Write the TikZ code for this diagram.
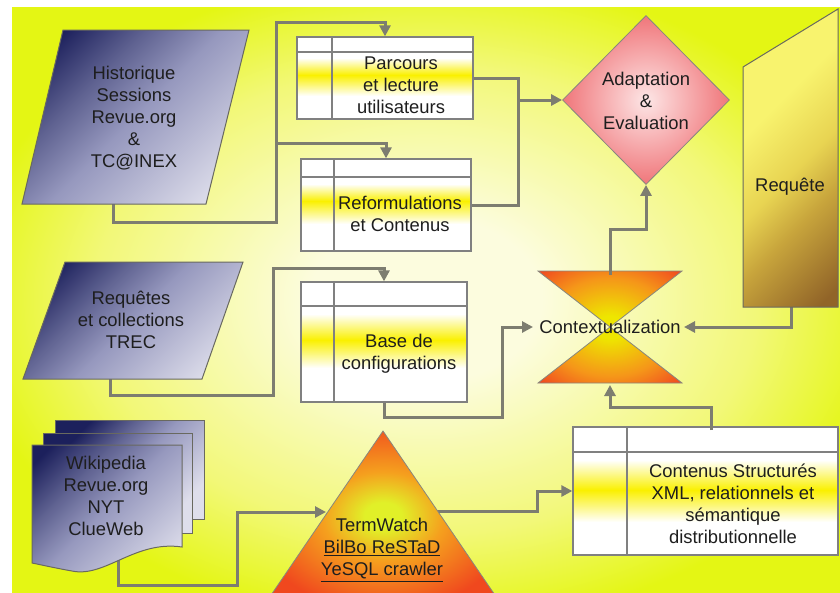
\documentclass[tikz,border=0pt]{standalone}
\usepackage{fontspec}
\setmainfont{Liberation Sans}
\usetikzlibrary{arrows.meta,shapes.geometric}
\definecolor{bgin}{RGB}{252,252,222}
\definecolor{bgmid}{RGB}{242,248,120}
\definecolor{bgout}{RGB}{228,246,20}
\pgfdeclareradialshading{bgshade}{\pgfpoint{0bp}{0bp}}{color(0bp)=(bgin); color(7bp)=(bgin); color(20bp)=(bgmid); color(28bp)=(bgout); color(50bp)=(bgout)}
\definecolor{hgin}{RGB}{238,230,0}
\definecolor{hgmid}{RGB}{245,150,25}
\definecolor{hgout}{RGB}{240,72,32}
\pgfdeclareradialshading{hgshade}{\pgfpoint{0bp}{0bp}}{color(0bp)=(hgin); color(5bp)=(hgin); color(22bp)=(hgmid); color(35bp)=(hgout); color(50bp)=(hgout)}
\definecolor{trin}{RGB}{225,240,40}
\definecolor{trmid}{RGB}{245,160,30}
\definecolor{trout}{RGB}{240,72,30}
\pgfdeclareradialshading{trshade}{\pgfpoint{0bp}{0bp}}{color(0bp)=(trin); color(4bp)=(trin); color(13bp)=(trmid); color(28bp)=(trout); color(50bp)=(trout)}
\definecolor{reqtop}{RGB}{248,243,110}
\definecolor{reqa}{RGB}{232,212,82}
\definecolor{reqb}{RGB}{200,165,60}
\definecolor{reqbot}{RGB}{145,100,40}
\pgfdeclareverticalshading{reqsh}{100bp}{color(0bp)=(reqbot); color(29bp)=(reqbot); color(41bp)=(reqb); color(48bp)=(reqa); color(58bp)=(reqtop); color(100bp)=(reqtop)}
\definecolor{navy}{RGB}{28,32,92}
\definecolor{navq}{RGB}{95,98,145}
\definecolor{navmid}{RGB}{150,152,190}
\definecolor{lav}{RGB}{222,222,235}
\pgfdeclareverticalshading{navshade}{100bp}{color(0bp)=(lav); color(25bp)=(lav); color(50bp)=(navmid); color(62bp)=(navq); color(75bp)=(navy); color(100bp)=(navy)}
\definecolor{lcol}{RGB}{125,125,112}
\definecolor{bcol}{RGB}{128,128,128}
\definecolor{sbor}{RGB}{105,105,95}
\definecolor{yband}{RGB}{250,240,0}
\definecolor{txtc}{RGB}{30,30,30}
\definecolor{pinkin}{RGB}{253,230,230}
\definecolor{pinkout}{RGB}{240,118,122}
\begin{document}
\begin{tikzpicture}[x=1pt,y=-1pt,
  txt/.style={font=\fontsize{18.4}{22}\selectfont, text=txtc, align=center, inner sep=0pt},
  conn/.style={draw=lcol, line width=3pt, line join=miter},
  arr/.style={conn, -{Triangle[length=11pt,width=11pt]}},
  tb/.style={draw=bcol, line width=1.3pt, inner sep=0pt, rectangle},
  bl/.style={draw=bcol, line width=1.3pt},
  sh/.style={draw=sbor, line width=1pt},
  navsh/.style={shading=navshade, shading angle=45},
]
\useasboundingbox (0,0) rectangle (840,592);
\fill[white] (0,0) rectangle (840,592);
\shade[shading=bgshade] (12,7) rectangle (840,592);

% named anchor points
\coordinate (hist-s) at (113,200);
\coordinate (reqs-s) at (110,375);
\coordinate (docs-s) at (118,552);
\coordinate (req-s) at (791,300);
\coordinate (ctx-top) at (610,275);
\coordinate (ctx-bot) at (610,385);
\coordinate (ctx-w) at (533,327);
\coordinate (ctx-e) at (684,327);
\coordinate (tw-w) at (326,512);
\coordinate (tw-e) at (430,511);
\coordinate (cont-n) at (711,430);

% ---------- boxes (nodes) ----------
% Parcours
\fill[white] (297,37) rectangle (473,119);
\shade[top color=white,bottom color=yband] (297,58) rectangle (473,75);
\shade[top color=yband,bottom color=white] (297,75) rectangle (473,96);
\node[tb, minimum width=176pt, minimum height=82pt] (parc) at (385,78) {};
\draw[bl] (297,52) -- (473,52) (332,37) -- (332,119);
% Reformulations
\fill[white] (301,159) rectangle (471,251);
\shade[top color=white,bottom color=yband] (301,184) rectangle (471,201);
\shade[top color=yband,bottom color=white] (301,201) rectangle (471,224);
\node[tb, minimum width=170pt, minimum height=92pt] (refo) at (386,205) {};
\draw[bl] (301,177) -- (471,177) (334,159) -- (334,251);
% Base
\fill[white] (301,282) rectangle (467,402);
\shade[top color=white,bottom color=yband] (301,314) rectangle (467,340);
\shade[top color=yband,bottom color=white] (301,340) rectangle (467,368);
\node[tb, minimum width=166pt, minimum height=120pt] (base) at (384,342) {};
\draw[bl] (301,306) -- (467,306) (334,282) -- (334,402);
% Contenus
\fill[white] (573,427) rectangle (838,555);
\shade[top color=white,bottom color=yband] (573,460) rectangle (838,490);
\shade[top color=yband,bottom color=white] (573,490) rectangle (838,522);
\node[tb, minimum width=265pt, minimum height=128pt] (cont) at (705.5,491) {};
\draw[bl] (573,452) -- (838,452) (627,427) -- (627,555);

% ---------- connectors ----------
\draw[arr] (hist-s) -- (113,222) -- (276,222) -- (276,22) -- (385,22) -- (parc.north);
\draw[arr] (276,143) -- (386,143) -- (refo.north);
\draw[conn] (parc.east) -- (518,78) -- (518,205) -- (refo.east);
\draw[arr] (reqs-s) -- (110,395) -- (273,395) -- (273,268) -- (384,268) -- (base.north);
\draw[arr] (base.south) -- (384,417) -- (502,417) -- (502,327) -- (ctx-w);
\draw[arr] (req-s) -- (791,327) -- (ctx-e);
\draw[arr] (docs-s) -- (118,585) -- (237,585) -- (237,512) -- (tw-w);
\draw[arr] (tw-e) -- (537,511) -- (537,491) -- (cont.west);
\draw[arr] (cont-n) -- (711,407) -- (610,407) -- (ctx-bot);

% ---------- shapes ----------
% Historique parallelogram
\begin{scope}
\clip (63,30) -- (249,30) -- (206,204) -- (22,204) -- cycle;
\shade[navsh] (19.5,7) rectangle (251.5,227);
\end{scope}
\draw[sh] (63,30) -- (249,30) -- (206,204) -- (22,204) -- cycle;
% Requetes parallelogram
\begin{scope}
\clip (65,262) -- (243,262) -- (202,379) -- (23,379) -- cycle;
\shade[navsh] (18,249.5) rectangle (248,391.5);
\end{scope}
\draw[sh] (65,262) -- (243,262) -- (202,379) -- (23,379) -- cycle;
% multi documents
\shade[sh, navsh] (55,420) rectangle (204,519);
\shade[sh, navsh] (43,433) rectangle (192,533);
\begin{scope}
\clip (32,445) -- (182,445) -- (182,547) .. controls (135,540) and (105,578) .. (72,571) .. controls (55,568) and (42,565) .. (32,563) -- cycle;
\shade[navsh] (29,418) rectangle (185,598);
\end{scope}
\draw[sh] (32,445) -- (182,445) -- (182,547) .. controls (135,540) and (105,578) .. (72,571) .. controls (55,568) and (42,565) .. (32,563) -- cycle;
% Requete (manual input)
\begin{scope}
\clip (743,67) -- (838,9) -- (838,307) -- (743,307) -- cycle;
\shade[shading=reqsh, shading angle=45] (640.5,8) rectangle (940.5,308);
\end{scope}
\draw[sh] (743,67) -- (838,9) -- (838,307) -- (743,307) -- cycle;
% Adaptation diamond
\node[diamond, minimum width=167pt, minimum height=169pt, inner sep=0pt, draw=sbor!80, line width=0.8pt, inner color=pinkin, outer color=pinkout] (adapt) at (646,100) {};
% Contextualization hourglass
\shade[shading=hgshade, draw=sbor!80, line width=0.8pt] (538,271) -- (682,271) -- (538,383) -- (682,383) -- cycle;
% TermWatch triangle
\begin{scope}
\clip (0,0) rectangle (840,592);
\shade[shading=trshade, draw=sbor!80, line width=0.8pt] (383,431) -- (499,601) -- (267,601) -- cycle;
\end{scope}

% arrows entering the diamond (drawn on top)
\draw[arr] (518,100) -- (adapt.west);
\draw[arr] (ctx-top) -- (610,229) -- (646,229) -- (adapt.south);

% ---------- texts ----------
\node[txt] (hist) at (134,118) {Historique\\Sessions\\Revue.org\\\&\\TC@INEX};
\node[txt] (reqs) at (131,320) {Requêtes\\et collections\\TREC};
\node[txt] (docs) at (106,496) {Wikipedia\\Revue.org\\NYT\\ClueWeb};
\node[txt] (parc-t) at (401,85) {Parcours\\et lecture\\utilisateurs};
\node[txt] (refo-t) at (400,214) {Reformulations\\et Contenus};
\node[txt] (base-t) at (399,354) {Base de\\configurations};
\node[txt] (adapt-t) at (646,101) {Adaptation\\\&\\Evaluation};
\node[txt] (req) at (790,187) {Requête};
\node[txt] (ctx) at (610,327) {Contextualization};
\node[txt] (tw) at (382,550) {TermWatch\\\underline{BilBo ReSTaD}\\\underline{YeSQL crawler}};
\node[txt] (cont-t) at (733,504) {Contenus Structurés\\XML, relationnels et\\sémantique\\distributionnelle};
\end{tikzpicture}
\end{document}
